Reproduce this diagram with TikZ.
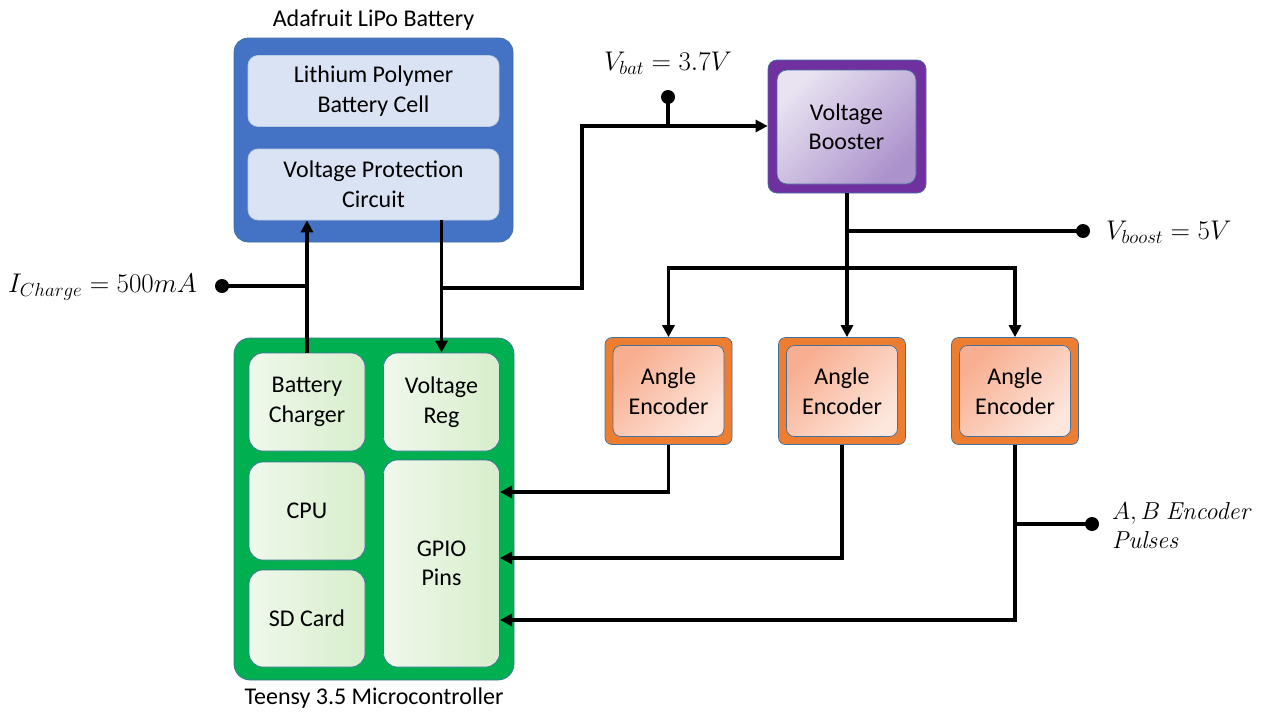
\RequirePackage{fix-cm}
\documentclass[tikz,border=0pt]{standalone}
\usepackage[no-math]{fontspec}
\setmainfont{Carlito}
\usetikzlibrary{arrows.meta}
\definecolor{batblue}{HTML}{4472C4}
\definecolor{batin}{HTML}{DAE3F3}
\definecolor{edge}{HTML}{41719C}
\definecolor{tgreen}{HTML}{00B050}
\definecolor{gin1}{HTML}{F0F8EC}
\definecolor{gin2}{HTML}{D7EECB}
\definecolor{purp}{HTML}{7030A0}
\definecolor{pin1}{HTML}{E8E2F1}
\definecolor{pin2}{HTML}{AC92CC}
\definecolor{orng}{HTML}{ED7D31}
\definecolor{oin1}{HTML}{F8AE90}
\definecolor{oin2}{HTML}{FDE6DC}
\begin{document}
\begin{tikzpicture}[x=1pt,y=-1pt,
  font=\fontsize{24}{29.5}\selectfont,
  wire/.style={line width=3.6pt},
  arr/.style={wire,-{Triangle[length=12pt,width=12pt]}},
  dot/.style={circle,fill=black,inner sep=0pt,minimum size=14pt},
  box/.style={draw=edge,line width=0.7pt,align=center,inner sep=0pt},
  batout/.style={box,fill=batblue,rounded corners=14pt,minimum width=279pt,minimum height=204pt},
  batinner/.style={box,fill=batin,draw=batin!80!edge,rounded corners=10pt,minimum width=251pt,minimum height=71pt},
  tout/.style={box,fill=tgreen,rounded corners=16pt,minimum width=280pt,minimum height=342pt},
  tinner/.style={box,left color=gin1,right color=gin2,rounded corners=14pt,minimum width=116pt},
  bout/.style={box,fill=purp,rounded corners=9pt,minimum width=158pt,minimum height=133pt},
  binner/.style={box,top color=pin1,bottom color=pin2,shading angle=45,rounded corners=10pt,minimum width=139pt,minimum height=114pt},
  eout/.style={box,fill=orng,rounded corners=7pt,minimum width=127pt,minimum height=107pt},
  einner/.style={box,top color=oin1,bottom color=oin2,shading angle=45,rounded corners=8pt,minimum width=111pt,minimum height=91pt},
  lbl/.style={inner sep=0pt},
  mlbl/.style={inner sep=0pt,font=\fontsize{27}{30}\selectfont}]
\useasboundingbox (0,0) rectangle (1264,715);

% Battery
\node[batout] (bat) at (373.5,140) {};
\node[batinner] (cell) at (373.5,91) {Lithium Polymer\\Battery Cell};
\node[batinner] (vpc) at (373.5,184.5) {Voltage Protection\\Circuit};
\node[lbl] (battitle) at (373.5,20) {Adafruit LiPo Battery};

% Teensy
\node[tout] (teensy) at (374,509) {};
\node[tinner,minimum height=98pt] (charger) at (307,402) {Battery\\Charger};
\node[tinner,minimum height=98pt] (vreg) at (441.5,402) {Voltage\\Reg};
\node[tinner,minimum height=98pt] (cpu) at (307,511) {CPU};
\node[tinner,minimum height=97pt] (sd) at (307,618.5) {SD Card};
\node[tinner,minimum height=207pt] (gpio) at (441.5,563.5) {GPIO\\Pins};
\node[lbl] (ttitle) at (374,698) {Teensy 3.5 Microcontroller};

% Booster
\node[bout] (boostout) at (847,126.5) {};
\node[binner] (booster) at (846.5,127) {Voltage\\Booster};

% Encoders
\foreach \i/\x in {1/668.5,2/842,3/1015}{
  \node[eout] (eout\i) at (\x,391) {};
  \node[einner] (enc\i) at (\x,391) {Angle\\Encoder};
}

% Charger <-> protection circuit
\draw[arr] (charger.north) -- (charger.north |- vpc.south);
\draw[arr] (vreg.north |- vpc.south) -- (vreg.north);

% I charge
\node[dot] (ich) at (222,286) {};
\draw[wire] (ich.center) -- (ich.center -| charger.north);
\node[mlbl,anchor=east] (ichlbl) at (197,287) {$I_{Charge}=500mA$};

% Vbat line
\coordinate (j1) at (441.5,288);
\coordinate (bend) at (582,126);
\draw[arr] (j1) -- (j1 -| bend) -- (bend) -- (bend -| boostout.west);
\node[dot] (vbat) at (668,97) {};
\draw[wire] (vbat.center) -- (vbat.center |- bend);
\node[mlbl] (vbatlbl) at (668,63) {$V_{bat}=3.7V$};

% Booster outputs
\coordinate (hb) at (847,268);
\draw[arr] (boostout.south) -- (boostout.south |- eout2.north);
\draw[arr] (hb) -| (eout1.north);
\draw[arr] (hb) -| (eout3.north);
\node[dot] (vboost) at (1083,231) {};
\draw[wire] (vboost.center) -- (vboost.center -| boostout.south);
\node[mlbl,anchor=west] (vboostlbl) at (1106,232) {$V_{boost}=5V$};

% Encoder outputs to GPIO
\coordinate (g1) at (500,492);
\coordinate (g2) at (500,558);
\coordinate (g3) at (500,620);
\draw[arr] (eout1.south) |- (g1);
\draw[arr] (eout2.south) |- (g2);
\draw[arr] (eout3.south) |- (g3);
\node[dot] (ab) at (1092,524) {};
\draw[wire] (ab.center) -- (ab.center -| eout3.south);
\node[mlbl,anchor=west,align=left,font=\fontsize{24.5}{29}\selectfont] (ablbl) at (1112,525) {$A,B\ \mathit{Encoder}$\\$\mathit{Pulses}$};
\end{tikzpicture}
\end{document}
